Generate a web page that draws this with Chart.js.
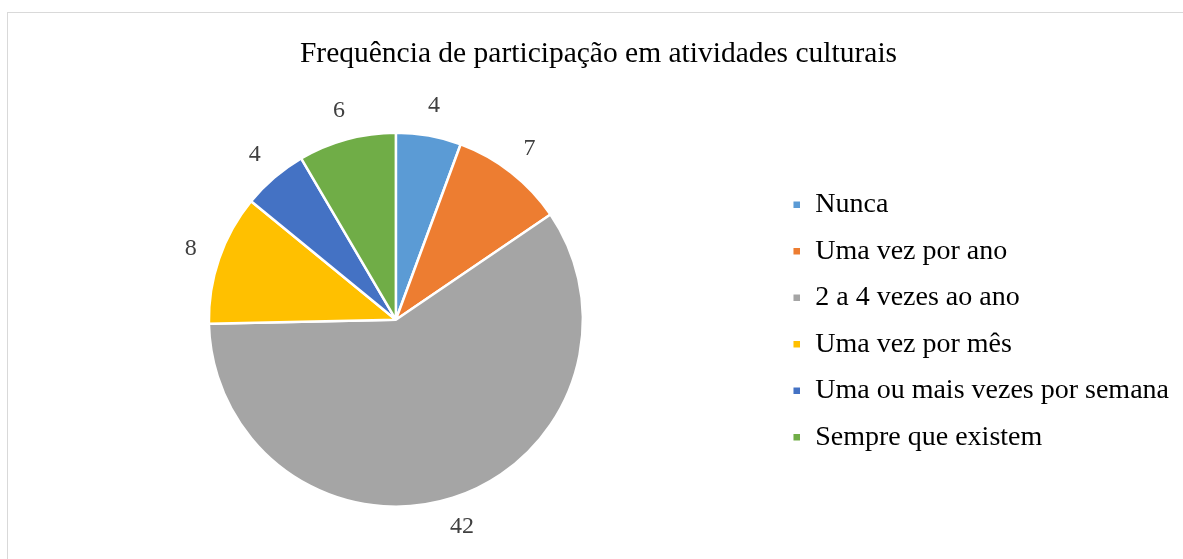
<!DOCTYPE html>
<html>
<head>
<meta charset="utf-8">
<script src="https://cdn.jsdelivr.net/npm/chart.js@4"></script>
<style>
  html, body { margin: 0; padding: 0; background: #fff; overflow: hidden; }
  #box { position: absolute; left: 7px; top: 12px; width: 1184px; height: 560px; border: 1px solid #d9d9d9; background: #fff; }
  #myChart { display: block; }
</style>
</head>
<body>
<div id="box"><canvas id="myChart" width="1184" height="560"></canvas></div>
<script>
//chart values
const categories = ['Nunca', 'Uma vez por ano', '2 a 4 vezes ao ano', 'Uma vez por mês', 'Uma ou mais vezes por semana', 'Sempre que existem'];
const counts = [4, 7, 42, 8, 4, 6];
const sliceColors = ['#5B9BD5', '#ED7D31', '#A5A5A5', '#FFC000', '#4472C4', '#70AD47'];
const chartTitle = 'Frequência de participação em atividades culturais';

const serif = "'Liberation Serif', 'Times New Roman', serif";

//small plugin that puts the value just outside each slice (no datalabels plugin offline)
const outsideLabels = {
  id: 'outsideLabels',
  afterDatasetsDraw(chart) {
    const ctx = chart.ctx;
    const meta = chart.getDatasetMeta(0);
    ctx.save();
    ctx.font = '24px ' + serif;
    ctx.fillStyle = '#404040';
    ctx.textAlign = 'center';
    ctx.textBaseline = 'middle';
    meta.data.forEach((arc, i) => {
      const mid = (arc.startAngle + arc.endAngle) / 2;
      const r = arc.outerRadius + 30;
      ctx.fillText(counts[i], arc.x + Math.cos(mid) * r, arc.y + Math.sin(mid) * r);
    });
    ctx.restore();
  }
};

const ctx = document.getElementById('myChart');
const chart1 = new Chart(ctx, {
  type: 'pie',
  data: {
    labels: categories,
    datasets: [{
      data: counts,
      backgroundColor: sliceColors,
      borderColor: '#ffffff',
      borderWidth: 2.5,
      hoverOffset: 0,
      radius: 187
    }]
  },
  options: {
    responsive: false,
    animation: false,
    layout: { padding: { left: 10, right: 13, top: 0, bottom: 16 } },
    plugins: {
      title: {
        display: true,
        text: chartTitle,
        color: '#000',
        font: { family: serif, size: 29.5, weight: 'normal' },
        padding: { top: 24, bottom: 10 }
      },
      legend: {
        position: 'right',
        //empty legend title only pushes the items down to sit beside the pie
        title: { display: true, text: '', font: { size: 10 }, padding: { top: 60, bottom: 0 } },
        labels: {
          color: '#000',
          font: { family: serif, size: 28 },
          boxWidth: 9,
          boxHeight: 9,
          padding: 18.5
        }
      },
      tooltip: { enabled: false }
    }
  },
  plugins: [outsideLabels]
});
</script>
</body>
</html>
